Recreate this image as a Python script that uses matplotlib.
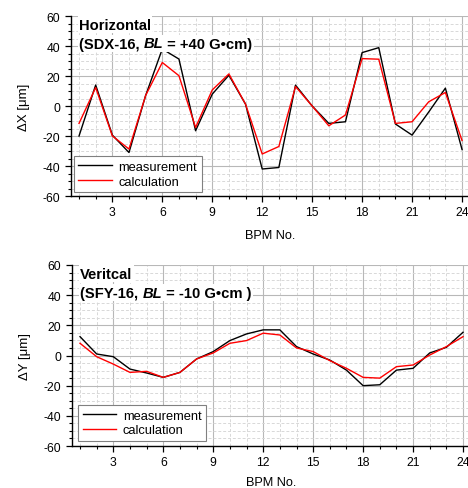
import matplotlib
matplotlib.use("Agg")
import matplotlib.pyplot as plt
from matplotlib.ticker import MultipleLocator

plt.rcParams['font.family'] = ['Liberation Sans', 'DejaVu Sans']
plt.rcParams['axes.unicode_minus'] = False

# BPM index along the ring
bpm = list(range(1, 25))

# Horizontal orbit difference (SDX-16 kick)
h_meas = [-20, 14, -19.4, -31, 7, 38, 31.3, -16.5, 7.9, 20.5, 1.2, -42,
          -41, 13.9, 0, -11.6, -10.5, 35.6, 38.9, -12, -19.4, -4, 11.9, -29]
h_calc = [-11.6, 12.3, -19.9, -28.7, 7, 29, 20.2, -14.3, 10.7, 21.4, 1.2, -32,
          -27, 13, 0, -13.2, -6, 31.6, 31.2, -11.6, -10.5, 2.8, 9, -23]

# Vertical orbit difference (SFY-16 kick)
v_meas = [12.5, 1, -0.8, -9, -11.6, -14.5, -11.2, -2.3, 2.6, 9.9, 14.3, 17,
          17, 5.9, 1, -3, -9.7, -20, -19.4, -9.7, -8.5, 1.7, 5.4, 15.4]
v_calc = [8.1, -0.8, -5.7, -11.2, -10.5, -14.5, -11.2, -2.3, 1.7, 8.1, 9.9, 14.8,
          13.6, 5, 2.6, -3.4, -8.5, -14.5, -15, -7.4, -6.3, 0.3, 5.9, 12.5]

x_ticks = [3, 6, 9, 12, 15, 18, 21, 24]
y_ticks = [-60, -40, -20, 0, 20, 40, 60]

W, H = 468, 489
fig = plt.figure(figsize=(W / 100, H / 100), dpi=100)


def make_axes(left_px, top_px, bottom_px):
    x0 = 0.5
    x1 = 24.5
    unit = (462 - 79) / 23.0
    left = left_px
    right = left + (x1 - x0) * unit
    return fig.add_axes([left / W, 1 - bottom_px / H,
                         (right - left) / W, (bottom_px - top_px) / H])


def style(ax, ylabel, xlabelpad):
    ax.set_xlim(0.5, 24.5)
    ax.set_ylim(-60, 60)
    ax.set_xticks(x_ticks)
    ax.set_yticks(y_ticks)
    ax.xaxis.set_minor_locator(MultipleLocator(1))
    ax.yaxis.set_minor_locator(MultipleLocator(5))
    ax.grid(which='major', color='#b8b8b8', linewidth=0.8, linestyle='-')
    ax.grid(which='minor', color='#d8d8d8', linewidth=0.7, linestyle=(0, (3, 2)))
    ax.set_axisbelow(True)
    for s in ('top', 'right'):
        ax.spines[s].set_visible(False)
    for s in ('left', 'bottom'):
        ax.spines[s].set_linewidth(1.0)
    ax.tick_params(which='major', direction='out', length=4.5, width=0.9,
                   labelsize=8.7, pad=3)
    ax.tick_params(which='minor', direction='out', length=2.5, width=0.8)
    ax.set_xlabel('BPM No.', fontsize=9.2, labelpad=xlabelpad)
    ax.set_ylabel(ylabel, fontsize=9.5, labelpad=9)


def title(ax, line1, parts):
    box = dict(facecolor='white', edgecolor='none', pad=0.8)
    ax.text(0.021, 0.93, line1, transform=ax.transAxes, fontsize=10.6,
            fontweight='bold', va='baseline', ha='left', bbox=box, zorder=5)
    fig.canvas.draw()
    renderer = fig.canvas.get_renderer()
    x = 0.021
    for txt, italic in parts:
        t = ax.text(x, 0.825, txt, transform=ax.transAxes, fontsize=10.6,
                    fontweight='bold', fontstyle='italic' if italic else 'normal',
                    va='baseline', ha='left', bbox=box, zorder=5)
        ext = t.get_window_extent(renderer=renderer)
        x = ax.transAxes.inverted().transform((ext.x1, ext.y0))[0]


def legend(ax, anchor):
    leg = ax.legend(loc='lower left', bbox_to_anchor=anchor, borderaxespad=0,
                    fontsize=9.3, frameon=True, fancybox=False, framealpha=1,
                    edgecolor='#808080', handlelength=2.6, handletextpad=0.5,
                    borderpad=0.35, labelspacing=0.2)
    leg.get_frame().set_linewidth(0.8)
    leg.set_zorder(6)


# Horizontal panel
ax1 = make_axes(70.7, 17, 197)
style(ax1, '\u0394X [\u03bcm]', 7.5)
ax1.plot(bpm, h_meas, color='black', linewidth=1.0, label='measurement', zorder=3)
ax1.plot(bpm, h_calc, color='#ff0000', linewidth=1.0, label='calculation', zorder=3)
legend(ax1, (0.008, 0.022))

# Vertical panel
ax2 = make_axes(71.7, 266, 447)
style(ax2, '\u0394Y [\u03bcm]', 5.5)
ax2.plot(bpm, v_meas, color='black', linewidth=1.0, label='measurement', zorder=3)
ax2.plot(bpm, v_calc, color='#ff0000', linewidth=1.0, label='calculation', zorder=3)
legend(ax2, (0.016, 0.028))

title(ax1, 'Horizontal', [('(SDX-16, ', False), ('BL', True), (' = +40 G\u2022cm)', False)])
title(ax2, 'Veritcal', [('(SFY-16, ', False), ('BL', True), (' = -10 G\u2022cm )', False)])

fig.savefig('out.png', dpi=100)
